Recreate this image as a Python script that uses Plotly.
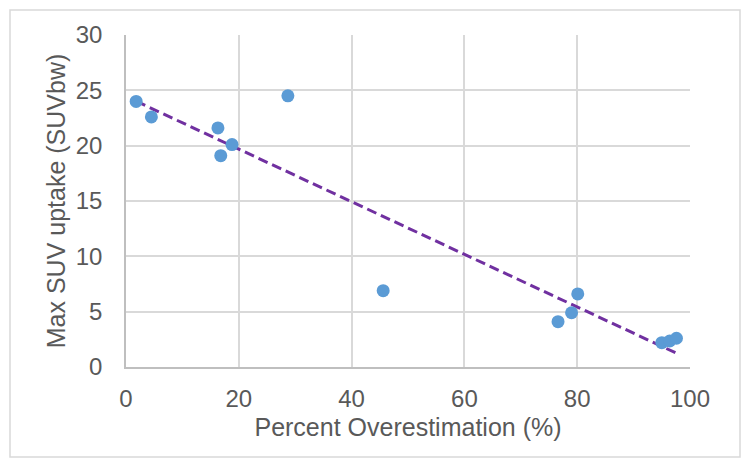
import numpy as np
import plotly.graph_objects as go

overestimation = [1.8, 4.5, 16.3, 16.8, 18.8, 28.7, 45.6, 76.6, 79.0, 80.1, 95.0, 96.4, 97.6]
max_suv = [24.0, 22.6, 21.6, 19.1, 20.1, 24.5, 6.9, 4.1, 4.9, 6.6, 2.2, 2.35, 2.6]

x_ticks = [0, 20, 40, 60, 80, 100]
y_ticks = [0, 5, 10, 15, 20, 25, 30]

slope, intercept = np.polyfit(overestimation, max_suv, 1)
tx = [min(overestimation), max(overestimation)]
ty = [slope * v + intercept for v in tx]

fig = go.Figure()
fig.add_trace(go.Scatter(x=tx, y=ty, mode="lines",
                         line=dict(color="#7030A0", width=3, dash="10px,5px"),
                         showlegend=False, hoverinfo="skip"))
fig.add_trace(go.Scatter(x=overestimation, y=max_suv, mode="markers",
                         marker=dict(color="#5B9BD5", size=13),
                         showlegend=False))

font_fam = "Liberation Sans, Arial, sans-serif"
tfs = 24
lfs = 25
L, R, T, B = 118, 67, 27, 108
PW, PH = 749 - L - R, 467 - T - B
fig.update_layout(
    width=749, height=467,
    margin=dict(l=L, r=R, t=T, b=B),
    paper_bgcolor="white", plot_bgcolor="white",
    font=dict(family=font_fam, size=tfs, color="#595959"),
    xaxis=dict(range=[0, 100], tickvals=x_ticks, showgrid=True, gridcolor="#D9D9D9",
               gridwidth=1.5, zeroline=False, showline=True, linecolor="#BFBFBF",
               linewidth=1.5, ticks="outside", ticklen=9, tickcolor="rgba(0,0,0,0)",
               automargin=False,
               tickfont=dict(size=tfs, color="#595959"),
               title=dict(text="Percent Overestimation (%)", font=dict(size=lfs, color="#595959"),
                          standoff=8)),
    yaxis=dict(range=[0, 30], tickvals=y_ticks, showgrid=True, gridcolor="#D9D9D9",
               gridwidth=1.5, zeroline=False, showline=True, linecolor="#BFBFBF",
               linewidth=1.5, ticks="outside", ticklen=17, tickcolor="rgba(0,0,0,0)",
               automargin=False,
               tickfont=dict(size=tfs, color="#595959"),
               title=dict(text="Max SUV uptake (SUVbw)", font=dict(size=lfs, color="#595959"),
                          standoff=3)),
    shapes=[dict(type="rect", xref="paper", yref="paper",
                 x0=(2 - L) / PW, x1=(732 - L) / PW,
                 y0=(PH - (449 - T)) / PH, y1=(PH - (2 - T)) / PH,
                 line=dict(color="#D9D9D9", width=1.5), fillcolor="rgba(0,0,0,0)", layer="below")],
)
fig.write_html("out.html")
